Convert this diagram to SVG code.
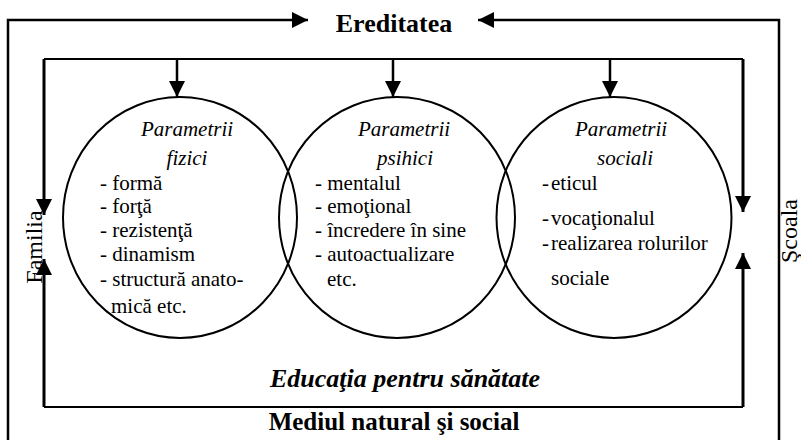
<svg xmlns="http://www.w3.org/2000/svg" width="801" height="440" viewBox="0 0 801 440" font-family="'Liberation Serif', 'Times New Roman', 'DejaVu Serif', serif">
<defs>
<style>
text{font-family:'Liberation Serif','Times New Roman','DejaVu Serif',serif;fill:#000}
.t{font-size:21px;font-style:italic}
.i{font-size:21px}
.big{font-size:25px;font-weight:bold}
.side{font-size:24px}
.ln{fill:none;stroke:#000;stroke-linecap:butt}
.c{fill:none;stroke:#000;stroke-width:2}
</style>
<marker id="ah" markerUnits="userSpaceOnUse" markerWidth="16" markerHeight="16" refX="16" refY="8" orient="auto">
<path d="M0,0 L16,8 L0,16 z" fill="#000"/>
</marker>
</defs>
<rect width="801" height="440" fill="#fff"/>
<g id="connectors">
<path class="ln" d="M8,440 V20 H308" stroke-width="2.5" marker-end="url(#ah)"/>
<path class="ln" d="M779,440 V20 H478" stroke-width="2.5" marker-end="url(#ah)"/>
<path class="ln" d="M44,59 H743" stroke-width="1.8"/>
<path class="ln" d="M44,407 H743" stroke-width="2.2"/>
<path class="ln" d="M44,59 V215" stroke-width="3" marker-end="url(#ah)"/>
<path class="ln" d="M44,407 V259" stroke-width="3" marker-end="url(#ah)"/>
<path class="ln" d="M743,59 V212" stroke-width="3" marker-end="url(#ah)"/>
<path class="ln" d="M743,407 V253" stroke-width="3" marker-end="url(#ah)"/>
<path class="ln" d="M177,59 V97" stroke-width="2.5" marker-end="url(#ah)"/>
<path class="ln" d="M393,59 V97" stroke-width="2.5" marker-end="url(#ah)"/>
<path class="ln" d="M610,59 V97" stroke-width="2.5" marker-end="url(#ah)"/>
</g>
<g id="ereditatea"><text class="big" x="394" y="32" text-anchor="middle" style="font-size:26px">Ereditatea</text></g>
<g id="familia"><text class="side" transform="translate(42,247) rotate(-90)" text-anchor="middle">Familia</text></g>
<g id="scoala"><text class="side" transform="translate(797,231) rotate(-90)" text-anchor="middle">Şcoala</text></g>
<g id="fizici">
<ellipse class="c" cx="180" cy="217.5" rx="117" ry="120.5"/>
<text class="t" x="187" y="136" text-anchor="middle">Parametrii</text>
<text class="t" x="187" y="165" text-anchor="middle">fizici</text>
<text class="i" x="100" y="190">- formă</text>
<text class="i" x="100" y="213">- forţă</text>
<text class="i" x="100" y="237">- rezistenţă</text>
<text class="i" x="100" y="261">- dinamism</text>
<text class="i" x="100" y="286">- structură anato-</text>
<text class="i" x="111" y="313">mică etc.</text>
</g>
<g id="psihici">
<ellipse class="c" cx="397" cy="217.5" rx="118" ry="120.5"/>
<text class="t" x="404" y="136" text-anchor="middle">Parametrii</text>
<text class="t" x="405" y="165" text-anchor="middle">psihici</text>
<text class="i" x="315" y="190">- mentalul</text>
<text class="i" x="315" y="213">- emoţional</text>
<text class="i" x="315" y="237">- încredere în sine</text>
<text class="i" x="315" y="261">- autoactualizare</text>
<text class="i" x="327" y="286">etc.</text>
</g>
<g id="sociali">
<ellipse class="c" cx="614" cy="217.5" rx="117.5" ry="120.5"/>
<text class="t" x="621" y="136" text-anchor="middle">Parametrii</text>
<text class="t" x="625" y="165" text-anchor="middle">sociali</text>
<text class="i" x="542" y="190">-</text><text class="i" x="551" y="190">eticul</text>
<text class="i" x="542" y="225">-</text><text class="i" x="551" y="225">vocaţionalul</text>
<text class="i" x="542" y="250">-</text><text class="i" x="551" y="250">realizarea rolurilor</text>
<text class="i" x="551" y="285">sociale</text>
</g>
<g id="educatia"><text x="405" y="387" text-anchor="middle" style="font-size:26px;font-weight:bold;font-style:italic">Educaţia pentru sănătate</text></g>
<g id="mediul"><text class="big" x="394" y="430" text-anchor="middle">Mediul natural şi social</text></g>
</svg>
